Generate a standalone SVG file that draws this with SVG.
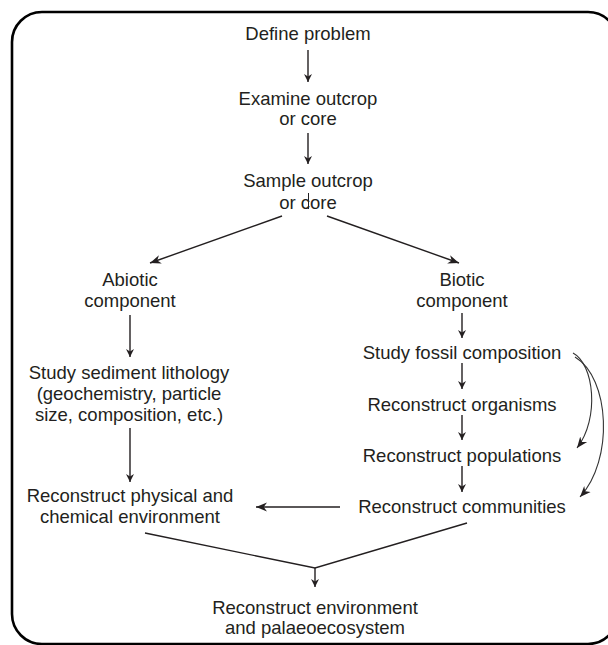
<svg xmlns="http://www.w3.org/2000/svg" width="608" height="645" viewBox="0 0 608 645">
<style>
text{font-family:"Liberation Sans",Arial,sans-serif;font-size:18.5px;fill:#231f20;text-anchor:middle}
.c{stroke:#231f20;stroke-width:1.4;fill:none}
.t{stroke:#333;stroke-width:1.1;fill:none}
</style>
<defs>
<marker id="ah" viewBox="0 0 10 10" refX="10" refY="5" markerWidth="8" markerHeight="8" markerUnits="userSpaceOnUse" orient="auto">
<path d="M0,0 L10,5 L0,10 L3,5 Z" fill="#231f20"/>
</marker>
<marker id="ah2" viewBox="0 0 10 10" refX="10" refY="5" markerWidth="11" markerHeight="11" markerUnits="userSpaceOnUse" orient="auto">
<path d="M0,1 L10,5 L0,9 L3,5 Z" fill="#231f20"/>
</marker>
</defs>
<rect x="12" y="12" width="606" height="632" rx="30" fill="#fff" stroke="#000" stroke-width="2.6"/>
<g id="connectors">
<line class="c" x1="308" y1="50" x2="308" y2="82" marker-end="url(#ah)"/>
<line class="c" x1="308" y1="133" x2="308" y2="164" marker-end="url(#ah)"/>
<line class="c" x1="282" y1="216" x2="150" y2="263" marker-end="url(#ah2)"/>
<line class="c" x1="327" y1="216" x2="459" y2="263" marker-end="url(#ah2)"/>
<line class="c" x1="130" y1="315" x2="130" y2="357" marker-end="url(#ah)"/>
<line class="c" x1="130" y1="428" x2="130" y2="482" marker-end="url(#ah)"/>
<line class="c" x1="462" y1="313" x2="462" y2="338" marker-end="url(#ah)"/>
<line class="c" x1="462" y1="363" x2="462" y2="389" marker-end="url(#ah)"/>
<line class="c" x1="462" y1="415" x2="462" y2="440" marker-end="url(#ah)"/>
<line class="c" x1="462" y1="466" x2="462" y2="492" marker-end="url(#ah)"/>
<line class="c" x1="340" y1="507" x2="256" y2="507" marker-end="url(#ah2)"/>
<path class="t" d="M573,353 C594,364 600,418 577,448" marker-end="url(#ah2)"/>
<path class="t" d="M575,357 C610,378 614,460 580,497" marker-end="url(#ah2)"/>
<polyline class="c" points="145,533 315,568 467,523"/>
<line class="c" x1="315" y1="568" x2="315" y2="587" marker-end="url(#ah)"/>
</g>
<g id="define"><text x="308" y="39.5">Define problem</text></g>
<g id="examine"><text x="308" y="104.5">Examine outcrop</text><text x="308" y="124.5">or core</text></g>
<g id="sample"><text x="308" y="186.5">Sample outcrop</text><text x="308" y="208.5">or core</text><line x1="308.5" y1="193" x2="308.5" y2="209" stroke="#231f20" stroke-width="1"/></g>
<g id="abiotic"><text x="130" y="285.5">Abiotic</text><text x="130" y="306.5">component</text></g>
<g id="biotic"><text x="462" y="285.5">Biotic</text><text x="462" y="306.5">component</text></g>
<g id="sediment"><text x="129" y="378.5">Study sediment lithology</text><text x="129" y="399.5">(geochemistry, particle</text><text x="129" y="421">size, composition, etc.)</text></g>
<g id="physical"><text x="130" y="501.5">Reconstruct physical and</text><text x="130" y="522.5">chemical environment</text></g>
<g id="fossil"><text x="462" y="358.5">Study fossil composition</text></g>
<g id="organisms"><text x="462" y="411">Reconstruct organisms</text></g>
<g id="populations"><text x="462" y="461.5">Reconstruct populations</text></g>
<g id="communities"><text x="462" y="512.5">Reconstruct communities</text></g>
<g id="environment"><text x="315" y="613.5">Reconstruct environment</text><text x="315" y="634">and palaeoecosystem</text></g>
</svg>
